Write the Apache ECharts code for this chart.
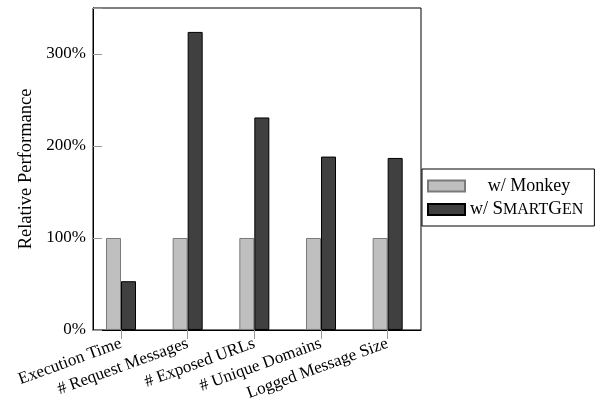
<!DOCTYPE html>
<html>
<head>
<meta charset="utf-8">
<script src="https://cdn.jsdelivr.net/npm/echarts@6/dist/echarts.min.js"></script>
<style>html,body{margin:0;padding:0;background:#fff}#c{width:598px;height:403px}</style>
</head>
<body>
<div id="c"></div>
<script>
var categories = ['Execution Time', '# Request Messages', '# Exposed URLs', '# Unique Domains', 'Logged Message Size'];
var monkeyValues = [100, 100, 100, 100, 100];
var smartGenValues = [53, 324, 231, 188.5, 187];
var yTicks = [0, 100, 200, 300];

var chart = echarts.init(document.getElementById('c'), null, {renderer: 'canvas'});
var font = '"Liberation Serif", "DejaVu Serif", serif';
function toPairs(arr) { return arr.map(function (v, i) { return [i, v]; }); }

chart.setOption({
  animation: false,
  backgroundColor: '#fff',
  textStyle: {fontFamily: font},
  grid: {left: 93, right: 177, top: 8, bottom: 72, show: true, borderColor: '#000', borderWidth: 1, containLabel: false},
  xAxis: {
    type: 'value', min: -0.42, max: 4.5,
    splitLine: {show: false},
    axisLine: {show: true, onZero: false, lineStyle: {color: '#000', width: 1}},
    axisTick: {show: true, customValues: [0, 1, 2, 3, 4], length: 9, inside: false, lineStyle: {color: '#999'}},
    axisLabel: {
      customValues: [0, 1, 2, 3, 4], rotate: 20, margin: 13, fontSize: 17, color: '#000', fontFamily: font,
      formatter: function (v) { return categories[Math.round(v)] || ''; }
    }
  },
  yAxis: {
    type: 'value', min: 0, max: 350, interval: 100,
    name: 'Relative Performance', nameLocation: 'middle', nameGap: 55,
    nameTextStyle: {fontSize: 18.5, color: '#000', fontFamily: font},
    splitLine: {show: false},
    axisLine: {show: true, onZero: false, lineStyle: {color: '#000', width: 1}},
    axisTick: {show: true, inside: true, length: 9, lineStyle: {color: '#999'}},
    axisLabel: {fontSize: 17, color: '#000', margin: 7, fontFamily: font,
      formatter: function (v) { return yTicks.indexOf(v) >= 0 ? v + '%' : ''; }}
  },
  legend: {
    orient: 'vertical', left: 422, top: 169,
    padding: [8, 11, 7, 5], itemGap: 5,
    borderColor: '#000', borderWidth: 1,
    itemWidth: 37, itemHeight: 11, icon: 'rect',
    data: ['w/ Monkey', 'w/ SmartGen'],
    formatter: function (name) {
      if (name === 'w/ Monkey') return '{c|w/ Monkey}';
      return '{n|w/ }{b|S}{s|MART}{b|G}{s|EN}';
    },
    textStyle: {
      fontSize: 18, color: '#000', fontFamily: font,
      rich: {
        c: {fontSize: 18, width: 118, align: 'center', fontFamily: font, color: '#000'},
        n: {fontSize: 18, fontFamily: font, color: '#000'},
        b: {fontSize: 19, fontFamily: font, color: '#000'},
        s: {fontSize: 16, fontFamily: font, color: '#000'}
      }
    }
  },
  series: [
    {name: 'w/ Monkey', type: 'bar', data: toPairs(monkeyValues), barWidth: 15, barGap: '0%',
      itemStyle: {color: '#bfbfbf', borderColor: '#7a7a7a', borderWidth: 1}},
    {name: 'w/ SmartGen', type: 'bar', data: toPairs(smartGenValues), barWidth: 15, barGap: '0%',
      itemStyle: {color: '#404040', borderColor: '#000', borderWidth: 1}}
  ]
});
</script>
</body>
</html>
